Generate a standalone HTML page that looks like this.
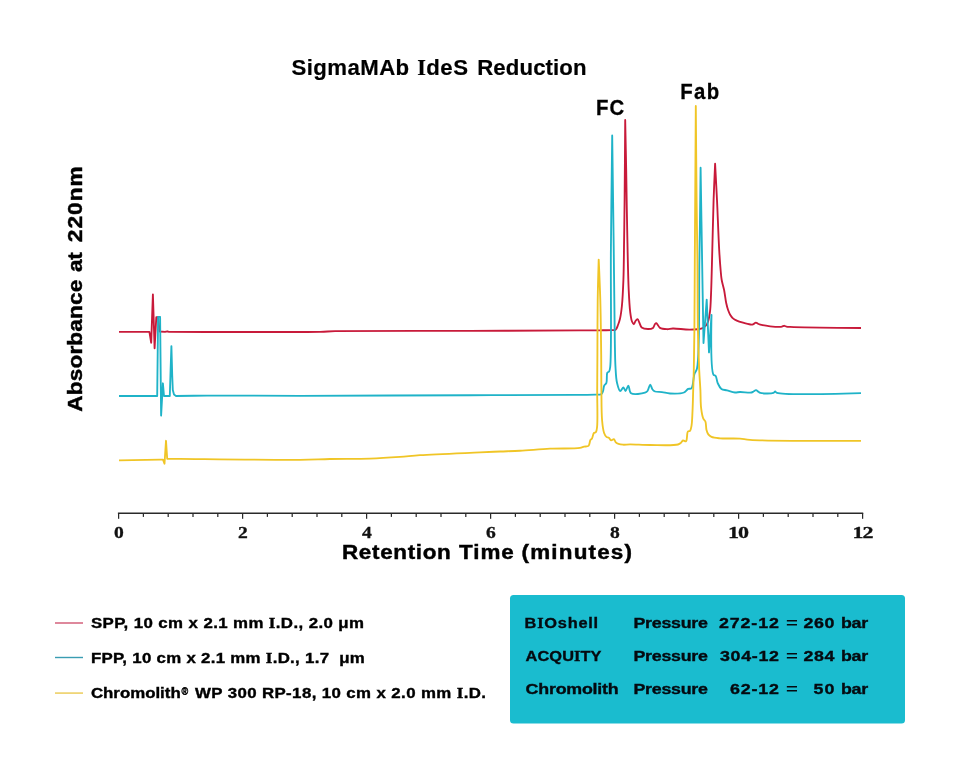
<!DOCTYPE html>
<html><head><meta charset="utf-8"><style>
html,body{margin:0;padding:0;background:#fff;width:960px;height:768px;overflow:hidden}
svg{display:block;will-change:transform}
</style></head><body>
<svg width="960" height="768" viewBox="0 0 960 768">
<rect width="960" height="768" fill="#fff"/>
<g fill="none" stroke-width="1.85" stroke-linejoin="round" stroke-linecap="butt">
<path stroke="#c81a3a" d="M119.00 331.90 L149.40 331.90 L151.20 342.80 L152.90 294.40 L154.60 348.30 L156.30 317.20 L158.10 317.20 L159.60 331.50 L165.00 331.80 L167.30 331.30 L169.00 331.80 C169.00 331.80 295.88 332.28 320.00 331.80 C327.61 331.65 327.50 331.36 335.00 331.20 C357.50 330.73 427.30 331.04 470.00 330.90 C508.54 330.77 558.08 330.50 580.00 330.40 C589.35 330.36 594.18 330.36 600.00 330.30 C604.51 330.25 609.17 330.24 612.00 330.10 C613.55 330.02 614.65 330.45 615.60 329.80 C616.76 329.01 617.29 326.73 618.00 325.00 C618.78 323.09 619.42 321.27 620.00 318.80 C620.81 315.33 621.38 311.03 621.90 306.00 C622.63 298.87 623.04 289.60 623.40 280.00 C623.85 268.10 623.90 253.33 624.10 240.00 C624.30 226.67 624.44 215.62 624.60 200.00 C624.82 177.91 625.20 120.00 625.20 120.00 C625.20 120.00 625.88 152.57 626.20 170.00 C626.55 189.09 626.78 210.00 627.20 230.00 C627.62 250.00 628.00 274.92 628.70 290.00 C629.13 299.14 629.46 306.20 630.20 312.00 C630.69 315.84 631.12 319.35 632.00 321.50 C632.51 322.74 633.23 324.23 633.80 324.20 C634.40 324.17 634.82 321.87 635.50 321.00 C636.08 320.25 636.89 319.09 637.50 319.20 C638.26 319.34 638.83 321.67 639.50 323.00 C640.23 324.43 640.45 326.50 641.70 327.50 C643.13 328.64 646.02 328.98 648.00 329.00 C649.76 329.02 651.82 328.81 653.00 327.90 C654.09 327.06 654.32 324.80 655.00 324.00 C655.40 323.53 655.81 323.06 656.20 323.10 C656.64 323.14 657.02 323.91 657.50 324.50 C658.22 325.37 658.75 327.11 660.00 327.90 C661.63 328.92 664.75 329.12 667.00 329.20 C669.07 329.27 670.49 328.56 673.00 328.50 C677.22 328.39 684.83 329.71 690.00 329.60 C694.35 329.51 699.16 329.37 702.00 328.30 C703.80 327.62 704.99 326.65 706.00 325.50 C706.95 324.42 707.43 323.32 708.00 321.70 C708.89 319.20 709.51 315.48 710.00 311.70 C710.63 306.86 710.69 301.92 711.00 295.00 C711.50 283.65 711.88 265.40 712.30 250.00 C712.75 233.77 713.08 215.33 713.60 200.00 C714.04 186.93 715.10 163.70 715.10 163.70 C715.10 163.70 716.37 186.93 717.00 200.00 C717.74 215.33 718.44 236.90 719.20 250.00 C719.69 258.50 720.20 265.46 720.70 271.00 C721.03 274.63 721.16 276.94 721.70 280.00 C722.27 283.26 723.39 286.43 724.10 290.00 C724.91 294.04 725.41 299.35 726.20 303.00 C726.78 305.71 727.35 307.89 728.10 310.00 C728.75 311.83 729.42 313.54 730.30 315.00 C731.08 316.30 731.92 317.47 733.00 318.40 C734.09 319.34 735.34 319.94 736.80 320.60 C738.58 321.41 740.83 322.07 743.00 322.70 C745.34 323.38 748.55 324.31 750.40 324.50 C751.48 324.61 752.14 324.66 753.00 324.40 C753.98 324.10 754.95 322.63 755.90 322.60 C756.78 322.57 757.50 323.60 758.50 324.00 C759.71 324.49 761.09 324.85 762.70 325.20 C764.83 325.66 767.55 326.02 770.20 326.30 C773.15 326.61 777.50 326.96 779.60 326.90 C780.66 326.87 781.21 326.78 782.00 326.60 C782.81 326.42 783.63 325.78 784.40 325.80 C785.13 325.82 785.70 326.42 786.50 326.60 C787.50 326.83 788.26 326.81 790.00 326.90 C795.09 327.18 809.22 327.42 820.00 327.60 C832.60 327.81 861.00 328.00 861.00 328.00"/>
<path stroke="#1fb3c8" d="M119.00 396.00 L157.20 396.00 L158.10 316.80 L160.10 316.80 L161.10 415.60 L162.90 383.30 L164.00 396.00 L169.80 396.00 L170.60 370.00 L171.40 346.10 L172.20 375.00 L172.80 390.00 L174.00 394.60 L176.00 396.00 C176.00 396.00 197.55 395.66 207.00 395.60 C214.96 395.55 219.58 395.59 229.00 395.60 C245.93 395.62 271.25 395.81 300.00 395.80 C344.49 395.78 420.13 395.36 470.00 395.20 C509.20 395.07 553.73 395.09 575.00 394.90 C584.28 394.82 590.28 394.75 595.00 394.60 C597.59 394.52 599.66 395.05 601.00 394.30 C602.01 393.73 602.40 392.66 602.90 391.50 C603.57 389.94 603.47 387.14 604.20 385.60 C604.76 384.42 605.87 384.13 606.40 382.80 C607.28 380.57 606.35 374.54 607.30 372.80 C607.75 371.97 608.64 372.10 609.10 371.40 C609.75 370.41 609.89 369.49 610.20 367.00 C611.79 354.36 610.56 288.79 610.90 250.00 C611.23 211.63 612.20 135.50 612.20 135.50 C612.20 135.50 613.30 214.13 613.75 250.00 C614.15 281.80 614.40 318.69 614.80 340.00 C615.02 351.74 615.02 359.49 615.50 367.30 C615.86 373.20 615.98 378.51 617.00 382.80 C617.77 386.03 618.92 390.77 620.20 391.00 C621.15 391.17 622.50 387.31 623.40 387.40 C624.24 387.48 624.76 391.01 625.50 391.00 C626.40 390.98 627.53 385.53 628.40 385.60 C629.40 385.68 628.97 391.91 631.00 393.30 C633.66 395.13 642.29 393.60 645.00 392.70 C646.26 392.28 646.76 391.90 647.50 391.00 C648.62 389.63 649.32 384.62 650.20 384.60 C650.98 384.58 651.55 388.30 652.50 389.50 C653.23 390.42 653.87 391.05 655.00 391.50 C656.68 392.17 659.60 391.79 662.00 392.10 C664.58 392.44 666.95 393.34 670.00 393.50 C674.01 393.70 680.83 393.80 684.00 392.50 C685.99 391.68 686.81 389.57 688.20 388.90 C689.27 388.39 690.52 389.16 691.40 388.30 C693.28 386.47 693.29 377.39 694.50 373.80 C695.26 371.54 696.29 371.52 697.00 368.50 C700.06 355.51 698.79 294.71 699.40 260.00 C699.96 227.99 700.60 167.70 700.60 167.70 C700.60 167.70 701.60 230.05 702.10 260.00 C702.57 288.40 703.50 343.00 703.50 343.00 C703.50 343.00 706.70 299.60 706.70 299.60 C706.70 299.60 709.00 352.40 709.00 352.40 C709.00 352.40 711.50 315.00 711.50 315.00 C711.50 315.00 710.42 370.10 713.50 374.80 C714.11 375.73 715.01 375.11 715.60 375.80 C716.66 377.05 716.69 380.87 717.70 383.10 C718.66 385.22 719.75 387.69 721.40 388.90 C722.92 390.01 724.97 389.86 727.00 390.40 C729.43 391.04 732.63 392.31 735.00 392.50 C736.85 392.65 737.99 392.06 740.00 392.00 C743.04 391.91 749.28 392.97 751.50 392.50 C752.48 392.29 752.80 391.86 753.50 391.50 C754.29 391.10 755.18 390.16 756.00 390.20 C756.84 390.24 757.73 391.32 758.50 391.80 C759.15 392.20 759.37 392.64 760.30 392.90 C762.63 393.56 771.24 393.71 773.50 392.90 C774.42 392.57 774.62 391.51 775.20 391.50 C775.79 391.49 775.83 392.50 777.00 392.90 C784.09 395.34 861.00 393.10 861.00 393.10"/>
<path stroke="#f0c526" d="M119.00 460.40 L160.00 459.70 L163.00 459.60 L164.50 463.70 L166.00 440.80 L167.20 458.80 C167.20 458.80 173.57 458.85 180.00 458.90 C199.70 459.05 273.33 460.06 300.00 459.80 C313.33 459.67 319.28 459.20 330.00 459.00 C342.38 458.77 357.63 459.01 370.00 458.60 C380.72 458.24 391.01 457.54 400.00 456.90 C407.34 456.38 411.54 455.76 420.00 455.20 C434.63 454.24 465.36 453.07 480.00 452.40 C488.45 452.01 493.33 451.78 500.00 451.50 C506.67 451.23 512.66 451.14 520.00 450.75 C528.99 450.27 540.00 449.18 550.00 448.70 C560.00 448.23 574.68 448.81 580.00 447.90 C581.99 447.56 582.61 446.93 584.00 446.60 C585.44 446.26 587.44 446.80 588.50 445.90 C589.73 444.85 589.61 441.29 590.40 440.00 C590.88 439.22 591.52 439.16 592.00 438.40 C592.77 437.18 592.99 433.95 593.90 433.00 C594.46 432.41 595.39 432.80 595.90 432.20 C596.72 431.23 596.81 429.37 597.10 426.70 C597.84 419.89 597.15 402.09 597.20 390.00 C597.25 378.19 597.33 367.98 597.40 355.00 C597.49 338.73 597.44 316.92 597.70 300.00 C597.92 285.50 598.70 259.60 598.70 259.60 C598.70 259.60 599.89 285.49 600.30 300.00 C600.77 316.92 601.02 338.73 601.20 355.00 C601.34 367.98 601.24 378.74 601.40 390.00 C601.55 400.52 601.38 412.58 602.10 420.50 C602.56 425.60 603.05 430.08 604.10 433.00 C604.73 434.75 605.46 436.14 606.40 436.90 C607.10 437.47 608.07 437.21 608.80 437.70 C609.66 438.28 610.21 440.19 611.10 440.40 C611.93 440.59 613.14 438.96 613.90 439.20 C614.74 439.47 614.99 441.50 615.80 442.30 C616.55 443.04 617.44 443.51 618.50 443.90 C619.77 444.37 621.33 444.59 623.00 444.70 C625.07 444.84 627.07 444.42 630.00 444.40 C634.96 444.37 642.77 444.96 650.00 445.00 C658.55 445.05 673.42 445.84 678.00 444.50 C679.65 444.02 680.23 443.32 681.10 442.60 C681.86 441.97 682.21 440.73 683.00 440.50 C683.83 440.26 685.23 441.78 686.00 441.30 C687.38 440.44 686.69 432.88 687.90 431.50 C688.47 430.85 689.45 431.37 690.00 430.80 C690.85 429.93 691.11 427.92 691.50 425.80 C692.14 422.28 692.23 416.75 692.50 411.50 C692.83 405.06 692.98 397.04 693.20 390.00 C693.41 383.21 693.62 377.81 693.80 370.00 C694.05 358.96 694.24 345.19 694.40 330.00 C694.61 309.91 694.66 282.43 694.80 260.00 C694.93 239.23 695.05 222.24 695.20 200.00 C695.38 172.17 695.80 106.00 695.80 106.00 C695.80 106.00 696.30 172.17 696.60 200.00 C696.84 222.24 697.19 239.23 697.40 260.00 C697.63 282.43 697.50 309.91 697.90 330.00 C698.20 345.19 698.69 358.96 699.20 370.00 C699.56 377.81 700.08 383.52 700.40 390.00 C700.70 396.13 700.47 402.72 701.10 407.90 C701.59 411.95 702.26 416.23 703.30 418.60 C703.90 419.96 704.88 420.19 705.40 421.50 C706.20 423.52 705.88 427.66 706.50 430.00 C706.96 431.74 707.41 433.23 708.30 434.40 C709.12 435.48 710.08 436.28 711.50 436.90 C713.57 437.81 716.56 437.99 720.00 438.30 C725.25 438.77 734.49 438.20 740.00 438.60 C743.91 438.88 744.86 439.54 750.00 439.90 C767.07 441.08 861.00 440.90 861.00 440.90"/>
</g>
<line x1="117.9" y1="513.25" x2="863.2" y2="513.25" stroke="#2a2a2a" stroke-width="1.4"/>
<g stroke="#2a2a2a" stroke-width="1.25"><line x1="118.60" y1="513" x2="118.60" y2="518.8"/><line x1="143.40" y1="513" x2="143.40" y2="516.9"/><line x1="168.20" y1="513" x2="168.20" y2="516.9"/><line x1="193.00" y1="513" x2="193.00" y2="516.9"/><line x1="217.80" y1="513" x2="217.80" y2="516.9"/><line x1="242.60" y1="513" x2="242.60" y2="518.8"/><line x1="267.40" y1="513" x2="267.40" y2="516.9"/><line x1="292.20" y1="513" x2="292.20" y2="516.9"/><line x1="317.00" y1="513" x2="317.00" y2="516.9"/><line x1="341.80" y1="513" x2="341.80" y2="516.9"/><line x1="366.60" y1="513" x2="366.60" y2="518.8"/><line x1="391.40" y1="513" x2="391.40" y2="516.9"/><line x1="416.20" y1="513" x2="416.20" y2="516.9"/><line x1="441.00" y1="513" x2="441.00" y2="516.9"/><line x1="465.80" y1="513" x2="465.80" y2="516.9"/><line x1="490.60" y1="513" x2="490.60" y2="518.8"/><line x1="515.40" y1="513" x2="515.40" y2="516.9"/><line x1="540.20" y1="513" x2="540.20" y2="516.9"/><line x1="565.00" y1="513" x2="565.00" y2="516.9"/><line x1="589.80" y1="513" x2="589.80" y2="516.9"/><line x1="614.60" y1="513" x2="614.60" y2="518.8"/><line x1="639.40" y1="513" x2="639.40" y2="516.9"/><line x1="664.20" y1="513" x2="664.20" y2="516.9"/><line x1="689.00" y1="513" x2="689.00" y2="516.9"/><line x1="713.80" y1="513" x2="713.80" y2="516.9"/><line x1="738.60" y1="513" x2="738.60" y2="518.8"/><line x1="763.40" y1="513" x2="763.40" y2="516.9"/><line x1="788.20" y1="513" x2="788.20" y2="516.9"/><line x1="813.00" y1="513" x2="813.00" y2="516.9"/><line x1="837.80" y1="513" x2="837.80" y2="516.9"/><line x1="862.60" y1="513" x2="862.60" y2="518.8"/></g>
<line x1="55" y1="623" x2="83" y2="623" stroke="#d8738b" stroke-width="1.7"/>
<line x1="55" y1="657.5" x2="83" y2="657.5" stroke="#3a9db2" stroke-width="1.4"/>
<line x1="55" y1="693.1" x2="83" y2="693.1" stroke="#efd577" stroke-width="1.8"/>
<rect x="510" y="595" width="395" height="128.5" rx="3.5" fill="#1abccf"/>
<text id="title1" transform="translate(291.40,74.70) scale(0.9700,1)" x="0" y="0" font-family='"Liberation Sans",sans-serif' font-weight="bold" font-size="22.90" fill="#000" stroke="#000" stroke-width="0.20" textLength="121.44" lengthAdjust="spacing">SigmaMAb</text>
<text id="title2" transform="translate(417.20,74.70) scale(0.9700,1)" x="0" y="0" font-family='"Liberation Sans",sans-serif' font-weight="bold" font-size="22.90" fill="#000" stroke="#000" stroke-width="0.20" textLength="52.37" lengthAdjust="spacing"><tspan font-family="'Liberation Serif',serif">I</tspan>deS</text>
<text id="title3" transform="translate(477.20,74.70) scale(0.9700,1)" x="0" y="0" font-family='"Liberation Sans",sans-serif' font-weight="bold" font-size="22.90" fill="#000" stroke="#000" stroke-width="0.20" textLength="112.78" lengthAdjust="spacing">Reduction</text>
<text id="fc" transform="translate(596.10,114.70) scale(0.9000,1)" x="0" y="0" font-family='"Liberation Sans",sans-serif' font-weight="bold" font-size="22.60" fill="#000" stroke="#000" stroke-width="0.30" textLength="31.11" lengthAdjust="spacing">FC</text>
<text id="fab" transform="translate(680.20,98.60) scale(0.9000,1)" x="0" y="0" font-family='"Liberation Sans",sans-serif' font-weight="bold" font-size="22.60" fill="#000" stroke="#000" stroke-width="0.30" textLength="43.22" lengthAdjust="spacing">Fab</text>
<text id="ylab1" transform="translate(82.40,411.80) rotate(-90) scale(1.0800,1)" x="0" y="0" font-family='"Liberation Sans",sans-serif' font-weight="bold" font-size="20.90" fill="#000" stroke="#000" stroke-width="0.45" textLength="122.41" lengthAdjust="spacing">Absorbance</text>
<text id="ylab2" transform="translate(82.40,272.00) rotate(-90) scale(1.0800,1)" x="0" y="0" font-family='"Liberation Sans",sans-serif' font-weight="bold" font-size="20.90" fill="#000" stroke="#000" stroke-width="0.45" textLength="18.33" lengthAdjust="spacing">at</text>
<text id="ylab3" transform="translate(82.40,242.20) rotate(-90) scale(1.0800,1)" x="0" y="0" font-family='"Liberation Sans",sans-serif' font-weight="bold" font-size="20.90" fill="#000" stroke="#000" stroke-width="0.45" textLength="70.19" lengthAdjust="spacing">220nm</text>
<text id="xlab1" transform="translate(342.00,558.75) scale(1.0800,1)" x="0" y="0" font-family='"Liberation Sans",sans-serif' font-weight="bold" font-size="20.80" fill="#000" stroke="#000" stroke-width="0.45" textLength="100.74" lengthAdjust="spacing">Retention</text>
<text id="xlab2" transform="translate(459.00,558.75) scale(1.0800,1)" x="0" y="0" font-family='"Liberation Sans",sans-serif' font-weight="bold" font-size="20.80" fill="#000" stroke="#000" stroke-width="0.45" textLength="50.74" lengthAdjust="spacing">Time</text>
<text id="xlab3" transform="translate(521.60,558.75) scale(1.0800,1)" x="0" y="0" font-family='"Liberation Sans",sans-serif' font-weight="bold" font-size="20.80" fill="#000" stroke="#000" stroke-width="0.45" textLength="102.22" lengthAdjust="spacing">(minutes)</text>
<text id="leg1" transform="translate(90.90,627.80) scale(1.2200,1)" x="0" y="0" font-family='"Liberation Sans",sans-serif' font-weight="bold" font-size="13.80" fill="#000" stroke="#000" stroke-width="0.35" textLength="223.85" lengthAdjust="spacing">SPP, 10 cm x 2.1 mm <tspan font-family="'Liberation Serif',serif">I</tspan>.D., 2.0 μm</text>
<text id="leg2" transform="translate(90.90,663.00) scale(1.2200,1)" x="0" y="0" font-family='"Liberation Sans",sans-serif' font-weight="bold" font-size="13.80" fill="#000" stroke="#000" stroke-width="0.35" textLength="224.51" lengthAdjust="spacing">FPP, 10 cm x 2.1 mm <tspan font-family="'Liberation Serif',serif">I</tspan>.D., 1.7  μm</text>
<text id="leg3a" transform="translate(90.90,697.80) scale(1.2200,1)" x="0" y="0" font-family='"Liberation Sans",sans-serif' font-weight="bold" font-size="13.80" fill="#000" stroke="#000" stroke-width="0.35" textLength="73.61" lengthAdjust="spacing">Chromolith</text>
<text id="leg3b" transform="translate(181.60,694.50) scale(0.7907,1)" x="0" y="0" font-family='"Liberation Sans",sans-serif' font-weight="bold" font-size="11.50" fill="#000" stroke="#000" stroke-width="0.45" textLength="9.61" lengthAdjust="spacing">®</text>
<text id="leg3c" transform="translate(195.00,697.80) scale(1.2200,1)" x="0" y="0" font-family='"Liberation Sans",sans-serif' font-weight="bold" font-size="13.80" fill="#000" stroke="#000" stroke-width="0.35" textLength="238.52" lengthAdjust="spacing">WP 300 RP-18, 10 cm x 2.0 mm <tspan font-family="'Liberation Serif',serif">I</tspan>.D.</text>
<text id="n0" transform="translate(524.60,627.50) scale(1.1200,1)" x="0" y="0" font-family='"Liberation Sans",sans-serif' font-weight="bold" font-size="14.60" fill="#050a10" stroke="#050a10" stroke-width="0.35" textLength="65.62" lengthAdjust="spacing">B<tspan font-family="'Liberation Serif',serif">I</tspan>Oshell</text>
<text id="p0" transform="translate(633.40,627.50) scale(1.2200,1)" x="0" y="0" font-family='"Liberation Sans",sans-serif' font-weight="bold" font-size="14.60" fill="#050a10" stroke="#050a10" stroke-width="0.35" textLength="61.07" lengthAdjust="spacing">Pressure</text>
<text id="e0" transform="translate(718.90,627.50) scale(1.2200,1)" x="0" y="0" font-family='"Liberation Sans",sans-serif' font-weight="bold" font-size="14.60" fill="#050a10" stroke="#050a10" stroke-width="0.35" textLength="49.18" lengthAdjust="spacing">272-12</text>
<text id="r0" transform="translate(803.40,627.50) scale(1.2200,1)" x="0" y="0" font-family='"Liberation Sans",sans-serif' font-weight="bold" font-size="14.60" fill="#050a10" stroke="#050a10" stroke-width="0.35" textLength="25.41" lengthAdjust="spacing">260</text>
<text id="q0" transform="translate(786.00,627.50) scale(1.3869,1)" x="0" y="0" font-family='"Liberation Sans",sans-serif' font-weight="bold" font-size="14.60" fill="#050a10" textLength="13.84" lengthAdjust="spacing">=</text>
<text id="b0" transform="translate(840.90,627.50) scale(1.2200,1)" x="0" y="0" font-family='"Liberation Sans",sans-serif' font-weight="bold" font-size="14.60" fill="#050a10" stroke="#050a10" stroke-width="0.35" textLength="22.30" lengthAdjust="spacing">bar</text>
<text id="n1" transform="translate(525.60,660.80) scale(1.1200,1)" x="0" y="0" font-family='"Liberation Sans",sans-serif' font-weight="bold" font-size="14.60" fill="#050a10" stroke="#050a10" stroke-width="0.35" textLength="67.77" lengthAdjust="spacing">ACQU<tspan font-family="'Liberation Serif',serif">I</tspan>TY</text>
<text id="p1" transform="translate(633.40,660.80) scale(1.2200,1)" x="0" y="0" font-family='"Liberation Sans",sans-serif' font-weight="bold" font-size="14.60" fill="#050a10" stroke="#050a10" stroke-width="0.35" textLength="61.07" lengthAdjust="spacing">Pressure</text>
<text id="e1" transform="translate(719.90,660.80) scale(1.2200,1)" x="0" y="0" font-family='"Liberation Sans",sans-serif' font-weight="bold" font-size="14.60" fill="#050a10" stroke="#050a10" stroke-width="0.35" textLength="48.36" lengthAdjust="spacing">304-12</text>
<text id="r1" transform="translate(803.40,660.80) scale(1.2200,1)" x="0" y="0" font-family='"Liberation Sans",sans-serif' font-weight="bold" font-size="14.60" fill="#050a10" stroke="#050a10" stroke-width="0.35" textLength="25.41" lengthAdjust="spacing">284</text>
<text id="q1" transform="translate(786.00,660.80) scale(1.3869,1)" x="0" y="0" font-family='"Liberation Sans",sans-serif' font-weight="bold" font-size="14.60" fill="#050a10" textLength="13.84" lengthAdjust="spacing">=</text>
<text id="b1" transform="translate(840.90,660.80) scale(1.2200,1)" x="0" y="0" font-family='"Liberation Sans",sans-serif' font-weight="bold" font-size="14.60" fill="#050a10" stroke="#050a10" stroke-width="0.35" textLength="22.30" lengthAdjust="spacing">bar</text>
<text id="n2" transform="translate(525.60,694.40) scale(1.2200,1)" x="0" y="0" font-family='"Liberation Sans",sans-serif' font-weight="bold" font-size="14.60" fill="#050a10" stroke="#050a10" stroke-width="0.35" textLength="76.31" lengthAdjust="spacing">Chromolith</text>
<text id="p2" transform="translate(633.40,694.40) scale(1.2200,1)" x="0" y="0" font-family='"Liberation Sans",sans-serif' font-weight="bold" font-size="14.60" fill="#050a10" stroke="#050a10" stroke-width="0.35" textLength="61.07" lengthAdjust="spacing">Pressure</text>
<text id="e2" transform="translate(730.00,694.40) scale(1.2200,1)" x="0" y="0" font-family='"Liberation Sans",sans-serif' font-weight="bold" font-size="14.60" fill="#050a10" stroke="#050a10" stroke-width="0.35" textLength="40.08" lengthAdjust="spacing">62-12</text>
<text id="r2" transform="translate(813.40,694.40) scale(1.2200,1)" x="0" y="0" font-family='"Liberation Sans",sans-serif' font-weight="bold" font-size="14.60" fill="#050a10" stroke="#050a10" stroke-width="0.35" textLength="17.21" lengthAdjust="spacing">50</text>
<text id="q2" transform="translate(786.00,694.40) scale(1.3869,1)" x="0" y="0" font-family='"Liberation Sans",sans-serif' font-weight="bold" font-size="14.60" fill="#050a10" textLength="13.84" lengthAdjust="spacing">=</text>
<text id="b2" transform="translate(840.90,694.40) scale(1.2200,1)" x="0" y="0" font-family='"Liberation Sans",sans-serif' font-weight="bold" font-size="14.60" fill="#050a10" stroke="#050a10" stroke-width="0.35" textLength="22.30" lengthAdjust="spacing">bar</text>
<text id="t0" transform="translate(114.10,537.90) scale(1.2000,1)" x="0" y="0" font-family='"Liberation Serif",serif' font-weight="bold" font-size="16.30" fill="#111" stroke="#111" stroke-width="0.30" textLength="17.00" lengthAdjust="spacing">0</text>
<text id="t2" transform="translate(237.90,537.90) scale(1.2000,1)" x="0" y="0" font-family='"Liberation Serif",serif' font-weight="bold" font-size="16.30" fill="#111" stroke="#111" stroke-width="0.30" textLength="16.17" lengthAdjust="spacing">2</text>
<text id="t4" transform="translate(362.10,537.90) scale(1.2000,1)" x="0" y="0" font-family='"Liberation Serif",serif' font-weight="bold" font-size="16.30" fill="#111" stroke="#111" stroke-width="0.30" textLength="12.00" lengthAdjust="spacing">4</text>
<text id="t6" transform="translate(486.10,537.90) scale(1.2000,1)" x="0" y="0" font-family='"Liberation Serif",serif' font-weight="bold" font-size="16.30" fill="#111" stroke="#111" stroke-width="0.30" textLength="16.17" lengthAdjust="spacing">6</text>
<text id="t8" transform="translate(610.10,537.90) scale(1.2000,1)" x="0" y="0" font-family='"Liberation Serif",serif' font-weight="bold" font-size="16.30" fill="#111" stroke="#111" stroke-width="0.30" textLength="24.50" lengthAdjust="spacing">8</text>
<text id="t10" transform="translate(728.00,537.90) scale(1.3500,1)" x="0" y="0" font-family='"Liberation Serif",serif' font-weight="bold" font-size="16.30" fill="#111" stroke="#111" stroke-width="0.30" textLength="15.63" lengthAdjust="spacing">10</text>
<text id="t12" transform="translate(852.40,537.90) scale(1.3500,1)" x="0" y="0" font-family='"Liberation Serif",serif' font-weight="bold" font-size="16.30" fill="#111" stroke="#111" stroke-width="0.30" textLength="15.63" lengthAdjust="spacing">12</text>
</svg>
</body></html>
